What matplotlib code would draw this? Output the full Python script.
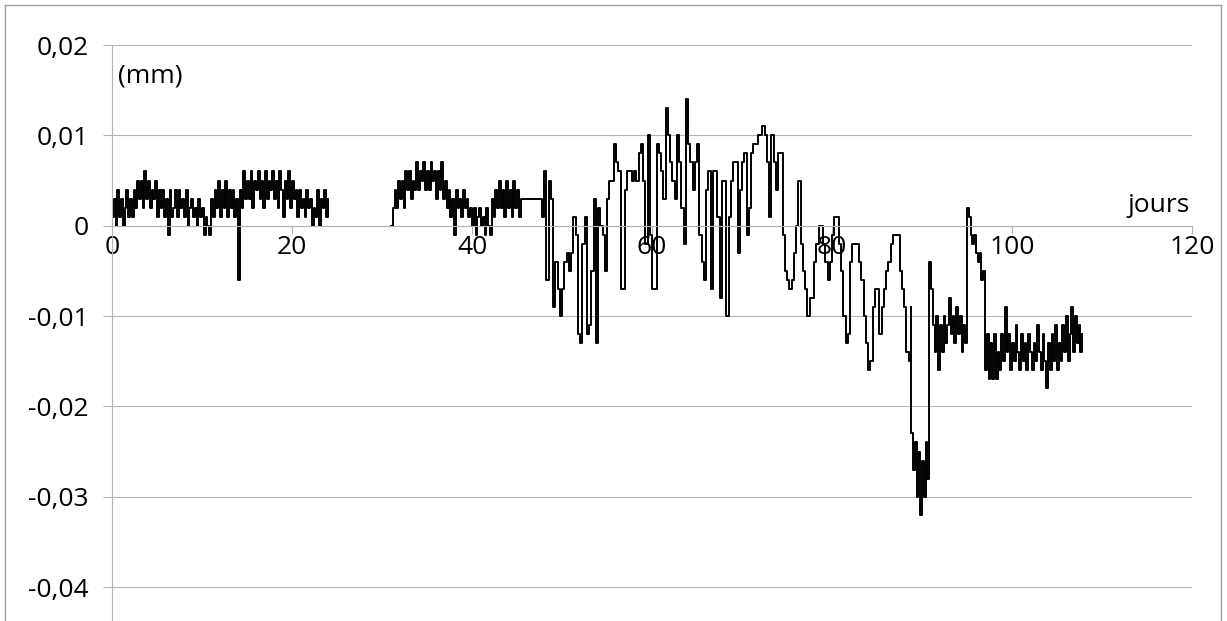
import numpy as np
import matplotlib
matplotlib.use("Agg")
import matplotlib.pyplot as plt
from matplotlib.lines import Line2D

# displacement readings in 1/1000 mm, each segment sampled on a regular grid
# (start day, step in days); read off the reference chart
SEG1_T0, SEG1_DT = 0.0, 0.2
SEG1 = [1, 3, 0, 4, 1, 3, 0, 2, 4, 1,
        3, 1, 4, 2, 5, 3, 5, 2, 6, 3,
        5, 2, 4, 3, 5, 1, 4, 2, 4, 1,
        3, -1, 4, 1, 2, 4, 1, 4, 2, 3,
        1, 4, 0, 2, 3, 1, 2, 0, 3, 1,
        2, -1, 1, 0, -1, 3, 1, 4, 2, 5,
        1, 4, 2, 5, 1, 4, 2, 4, 1, 3,
        -6, 4, 2, 6, 3, 5, 3, 6, 2, 5,
        4, 6, 3, 5, 2, 6, 3, 5, 4, 6,
        3, 5, 2, 6, 4, 1, 5, 3, 6, 2,
        5, 3, 4, 1, 4, 2, 3, 1, 4, 2,
        3, 0, 2, 1, 4, 0, 3, 2, 4, 1, 3]

SEG2_T0, SEG2_DT = 31.0, 0.2
SEG2 = [0, 2, 4, 2, 5, 3, 5, 2, 6, 4,
        6, 3, 5, 4, 7, 4, 6, 5, 7, 4,
        6, 4, 7, 5, 6, 3, 6, 4, 7, 3,
        5, 2, 4, 1, 3, -1, 4, 2, 3, 1,
        4, 2, 3, 1, 2, 0, 2, -1, 1, 2,
        0, 1, -1, 2, 0, -1, 3, 1, 4, 2,
        5, 2, 4, 1, 5, 2, 4, 1, 5, 2,
        4, 1, 3]

SEG3_T0, SEG3_DT = 47.5, 0.25
SEG3 = [3, 1, 6, -6, 5, 3, -9, -4, -7, -10,
        -7, -4, -3, -5, -3, 1, -1, -12, -13, -2,
        1, -12, -11, -5, 3, -13, 2, 0, -1, -5,
        3, 5, 5, 9, 7, 6, -7, -7, 4, 6,
        6, 5, 6, 5, 8, 9, 5, -2, 10, -1,
        -7, -7, 9, 8, 6, 3, 13, 10, 7, 5,
        3, 10, 7, 2, -2, 14, 9, 7, 4, 7,
        9, -1, -4, -6, 4, 6, -7, 6, 6, 1,
        -8, 5, 5, -10, 1, 5, 7, 7, -3, 4,
        7, 8, -1, 2, 8, 9, 9, 10, 10, 11,
        10, 7, 1, 10, 7, 4, 8, 8, -1, -5,
        -6, -7, -6, -3, 0, 5, -2, -5, -7, -10,
        -8, -8, -4, -2, 0, 0, -2, -4, -6, -4,
        -1, 1, 1, -2, -5, -10, -13, -12, -4, -2,
        -2, -2, -4, -6, -10, -13, -16, -15, -9, -7,
        -7, -12, -9, -7, -5, -4, -2, -1, -1, -1,
        -5, -7, -9, -14, -15, -9]

SEG4_T0, SEG4_DT = 88.8, 0.2
SEG4 = [-23, -27, -24, -30, -25, -32, -26, -30, -24, -28,
        -4, -7, -11, -14, -10, -16, -11, -14, -10, -13,
        -11, -8, -12, -10, -13, -9, -12, -10, -14, -11,
        -13, 2, 1, -1, -2, -1, -3, -4, -3, -6,
        -5, -16, -12, -17, -13, -17, -12, -17, -14, -16,
        -12, -15, -9, -14, -12, -16, -13, -15, -11, -14,
        -16, -12, -15, -13, -16, -12, -14, -16, -13, -15,
        -11, -14, -16, -12, -15, -18, -13, -16, -12, -15,
        -11, -16, -13, -15, -11, -14, -10, -15, -12, -9,
        -14, -10, -13, -11, -14, -12]

X_TICKS = [0, 20, 40, 60, 80, 100, 120]
Y_TICKS = [0.02, 0.01, 0, -0.01, -0.02, -0.03, -0.04]
Y_LABELS = ["0,02", "0,01", "0", "-0,01", "-0,02", "-0,03", "-0,04"]


def series(t0, dt, vals):
    v = np.array(vals, dtype=float) * 1e-3
    return t0 + dt * np.arange(len(v)), v


plt.rcParams["font.family"] = ["Open Sans", "DejaVu Sans"]

W, H = 1227, 621
FS = 19
fig = plt.figure(figsize=(W / 100, H / 100), dpi=100)
ax = fig.add_axes([112 / W, 0, (1192 - 112) / W, (H - 45) / H])
ax.set_xlim(0, 120)
ax.set_ylim(-0.04376, 0.02)

grey = "#b4b4b4"
ax.yaxis.grid(True, color=grey, lw=0.8)
ax.set_axisbelow(True)
for s in ("top", "right"):
    ax.spines[s].set_visible(False)
ax.spines["left"].set_color(grey)
ax.spines["bottom"].set_color(grey)
ax.spines["bottom"].set_position(("data", 0))

ax.set_xticks(X_TICKS)
ax.set_yticks(Y_TICKS, Y_LABELS)
ax.tick_params(axis="y", direction="out", length=6.5, width=0.8, color=grey,
               labelsize=FS, pad=10.5)
ax.tick_params(axis="x", direction="out", length=6, width=0.8, color=grey,
               labelsize=FS, pad=1)

t1, v1 = series(SEG1_T0, SEG1_DT, SEG1)
ax.plot(t1, v1, color="black", lw=1.4, drawstyle="steps-post")
parts = [series(SEG2_T0, SEG2_DT, SEG2), series(SEG3_T0, SEG3_DT, SEG3),
         series(SEG4_T0, SEG4_DT, SEG4)]
t2 = np.concatenate([p[0] for p in parts])
v2 = np.concatenate([p[1] for p in parts])
ax.plot(t2, v2, color="black", lw=1.4, drawstyle="steps-post")

fig.text(118 / W, 1 - 76 / H, "(mm)", fontsize=FS, ha="left", va="center")
fig.text(1190 / W, 1 - 205 / H, "jours", fontsize=FS, ha="right", va="center")

# chart-area frame (bottom edge is cropped in the reference)
for xs, ys in [([5, 5], [H, 5]), ([5, 1221], [5, 5]), ([1221, 1221], [5, H])]:
    fig.add_artist(Line2D([x / W for x in xs], [1 - y / H for y in ys],
                          color="#a0a0a0", lw=1.0))

fig.savefig("out.png", dpi=100)
